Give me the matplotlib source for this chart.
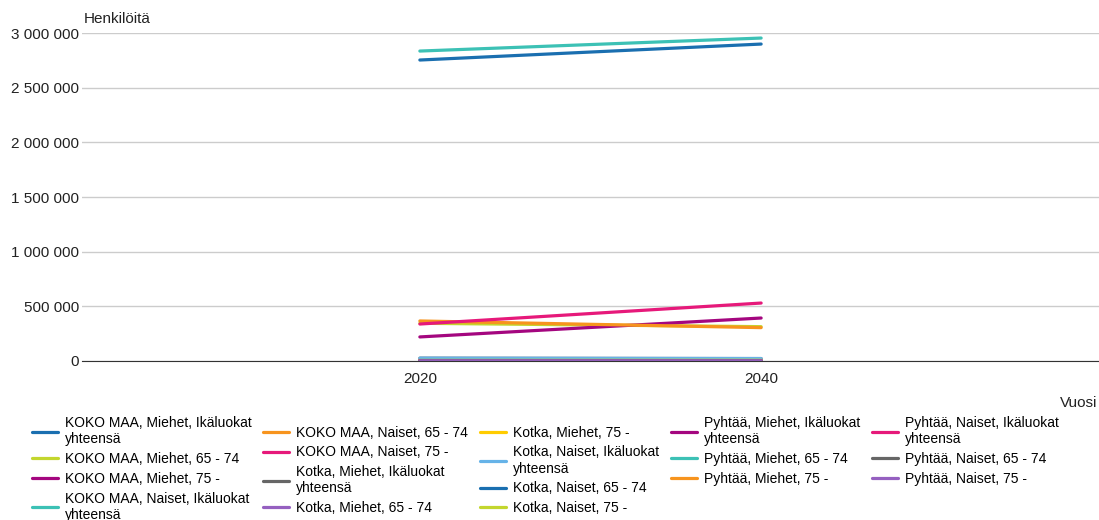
import matplotlib.pyplot as plt
from matplotlib.ticker import FuncFormatter

plt.rcParams['font.family'] = ['Liberation Sans', 'DejaVu Sans']

years = [2020, 2040]

labels = [
    "KOKO MAA, Miehet, Ikäluokat\nyhteensä",
    "KOKO MAA, Miehet, 65 - 74",
    "KOKO MAA, Miehet, 75 -",
    "KOKO MAA, Naiset, Ikäluokat\nyhteensä",
    "KOKO MAA, Naiset, 65 - 74",
    "KOKO MAA, Naiset, 75 -",
    "Kotka, Miehet, Ikäluokat\nyhteensä",
    "Kotka, Miehet, 65 - 74",
    "Kotka, Miehet, 75 -",
    "Kotka, Naiset, Ikäluokat\nyhteensä",
    "Kotka, Naiset, 65 - 74",
    "Kotka, Naiset, 75 -",
    "Pyhtää, Miehet, Ikäluokat\nyhteensä",
    "Pyhtää, Miehet, 65 - 74",
    "Pyhtää, Miehet, 75 -",
    "Pyhtää, Naiset, Ikäluokat\nyhteensä",
    "Pyhtää, Naiset, 65 - 74",
    "Pyhtää, Naiset, 75 -",
]

# arvot vuosille 2020 ja 2040 (luettu kuvasta)
values = [
    [2753000, 2899000],
    [345000, 314000],
    [220000, 393000],
    [2835000, 2954000],
    [366000, 305000],
    [338000, 530000],
    [25500, 22000],
    [4000, 3000],
    [3000, 4500],
    [26000, 22500],
    [4300, 3200],
    [5500, 6500],
    [2700, 2400],
    [450, 400],
    [300, 500],
    [2500, 2200],
    [430, 380],
    [400, 600],
]

colors = [
    '#1a6fb0', '#c3d62e', '#a4067f', '#3cc1b5', '#f7941e', '#e6197a',
    '#666666', '#9560c0', '#ffcc00', '#66b3e8', '#1a6fb0', '#c3d62e',
    '#a4067f', '#3cc1b5', '#f7941e', '#e6197a', '#666666', '#9560c0',
]

fig = plt.figure(figsize=(10.99, 5.2), dpi=100)
ax = fig.add_axes([0.0746, 0.3058, 0.9254, 0.6307])

for lab, val, col in zip(labels, values, colors):
    ax.plot(years, val, color=col, linewidth=2.3, label=lab, solid_capstyle='round')

ax.set_xlim(2000.2, 2059.8)
ax.set_ylim(0, 3000000)
ax.set_xticks(years)
ax.set_yticks(range(0, 3000001, 500000))
ax.yaxis.set_major_formatter(FuncFormatter(lambda v, p: f"{int(v):,}".replace(",", " ")))
ax.grid(axis='y', color='#cccccc', linewidth=1)
ax.set_axisbelow(True)
for s in ['top', 'right', 'left']:
    ax.spines[s].set_visible(False)
ax.spines['bottom'].set_color('#333333')
ax.tick_params(axis='both', length=0, labelsize=11, colors='#222222', pad=8)
ax.tick_params(axis='y', pad=2)

fig.text(84 / 1099, 1 - 19 / 520, "Henkilöitä", fontsize=11, color='#222222', va='center', ha='left')
fig.text(1097 / 1099, 1 - 403 / 520, "Vuosi", fontsize=11, color='#222222', va='center', ha='right')

fig.legend(loc='upper left', bbox_to_anchor=(32 / 1099, 1 - 416 / 520), ncol=5, frameon=False,
           fontsize=10, handlelength=1.87, handletextpad=0.5, columnspacing=0.85,
           labelspacing=0.42, borderaxespad=0, borderpad=0)

fig.savefig('out.png', dpi=100)
